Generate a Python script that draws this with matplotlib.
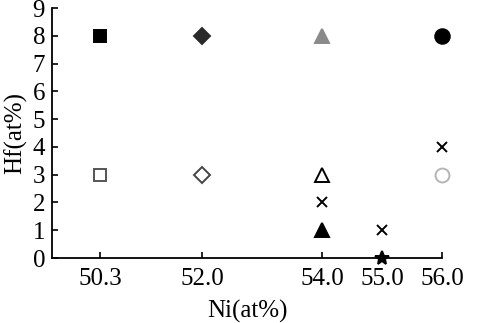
import matplotlib
matplotlib.use('Agg')
import matplotlib.pyplot as plt

plt.rcParams['font.family'] = ['Liberation Serif', 'DejaVu Serif']

# data
ni = [50.3, 50.3, 52.0, 52.0, 54.0, 54.0, 54.0, 54.0, 55.0, 55.0, 56.0, 56.0, 56.0]
hf = [8, 3, 8, 3, 8, 3, 2, 1, 1, 0, 8, 4, 3]
x_ticks = [50.3, 52.0, 54.0, 55.0, 56.0]
x_tick_labels = ['50.3', '52.0', '54.0', '55.0', '56.0']
y_ticks = list(range(0, 10))

# marker styles: (marker, face, edge, size)
styles = [
    ('s', 'black', 'black', 8.5),
    ('s', 'none', '#555555', 8),
    ('D', '#2a2a2a', '#2a2a2a', 8),
    ('D', 'none', '#444444', 8),
    ('^', '#8a8a8a', '#8a8a8a', 10.5),
    ('^', 'none', 'black', 10.5),
    ('x', 'black', 'black', 7.5),
    ('^', 'black', 'black', 10.5),
    ('x', 'black', 'black', 7.5),
    ('*', 'black', 'black', 10),
    ('o', 'black', 'black', 10.5),
    ('x', 'black', 'black', 7.5),
    ('o', 'none', '#b5b5b5', 10),
]

fig = plt.figure(figsize=(4.79, 3.23), dpi=100)
ax = fig.add_axes([0.1086, 0.2012, 0.8142, 0.7738])

for x, y, (m, fc, ec, ms) in zip(ni, hf, styles):
    ax.plot(x, y, linestyle='none', marker=m, markerfacecolor=fc,
            markeredgecolor=ec, markersize=ms, markeredgewidth=1.4,
            clip_on=False, zorder=3)

ax.set_xlim(49.5, 56.0)
ax.set_ylim(0, 9)
ax.set_xticks(x_ticks)
ax.set_xticklabels(x_tick_labels)
ax.set_yticks(y_ticks)

for s in ['top', 'right']:
    ax.spines[s].set_visible(False)
for s in ['left', 'bottom']:
    ax.spines[s].set_linewidth(1.3)

ax.tick_params(direction='in', length=4, width=1.2, labelsize=18)
ax.tick_params(axis='x', pad=7)
ax.tick_params(axis='y', pad=5)
ax.set_xlabel('Ni(at%)', fontsize=18, labelpad=7)
ax.set_ylabel('Hf(at%)', fontsize=18, labelpad=4)

fig.savefig('out.png', dpi=100)
